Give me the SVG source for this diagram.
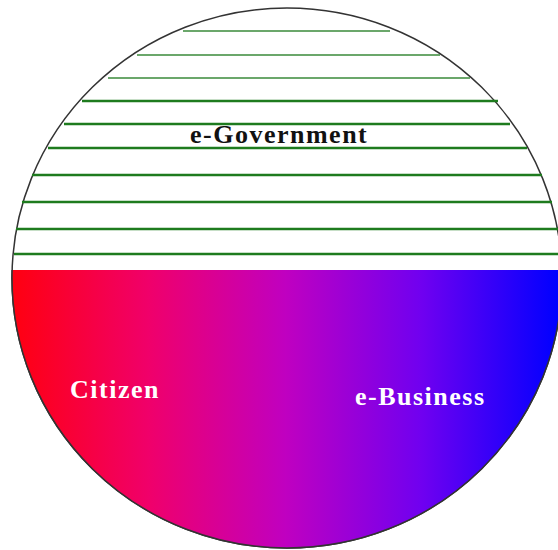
<svg xmlns="http://www.w3.org/2000/svg" width="558" height="550" viewBox="0 0 558 550">
<defs>
<linearGradient id="grad" x1="12" y1="0" x2="558" y2="0" gradientUnits="userSpaceOnUse">
<stop offset="0" stop-color="#ff0010"/>
<stop offset="0.25" stop-color="#f0006a"/>
<stop offset="0.5" stop-color="#c000c0"/>
<stop offset="0.75" stop-color="#7000f0"/>
<stop offset="1" stop-color="#0000ff"/>
</linearGradient>
<clipPath id="lower"><rect x="0" y="270" width="558" height="280"/></clipPath>
<style>
.h{stroke:#1e7b1e;stroke-width:2.5}
.t{stroke:#3a8a3a;stroke-width:1.5}
.lbl{font-family:"Liberation Serif",serif;font-weight:bold;font-size:26px;letter-spacing:1.5px}
</style>
</defs>
<g id="circle">
<ellipse cx="287" cy="278" rx="275" ry="270" fill="#ffffff" stroke="#333333" stroke-width="1.5"/>
</g>
<g id="lines">
<line class="t" x1="183" y1="31" x2="390" y2="31"/>
<line class="t" x1="137" y1="55" x2="440" y2="55"/>
<line class="t" x1="108" y1="78" x2="470" y2="78"/>
<line class="h" x1="82" y1="101" x2="498" y2="101"/>
<line class="h" x1="64" y1="124" x2="510" y2="124"/>
<line class="h" x1="48" y1="148" x2="527" y2="148"/>
<line class="h" x1="32" y1="175" x2="542" y2="175"/>
<line class="h" x1="22" y1="202" x2="552" y2="202"/>
<line class="h" x1="16" y1="229" x2="558" y2="229"/>
<line class="h" x1="14" y1="254" x2="558" y2="254"/>
</g>
<g id="lowerhalf">
<ellipse cx="287" cy="278" rx="275" ry="270" fill="url(#grad)" stroke="#333333" stroke-width="1.5" clip-path="url(#lower)"/>
</g>
<g id="egov"><text class="lbl" x="190" y="143" fill="#111111">e-Government</text></g>
<g id="citizen"><text class="lbl" x="70" y="398" fill="#ffffff">Citizen</text></g>
<g id="ebusiness"><text class="lbl" x="355" y="405" fill="#ffffff">e-Business</text></g>
</svg>
